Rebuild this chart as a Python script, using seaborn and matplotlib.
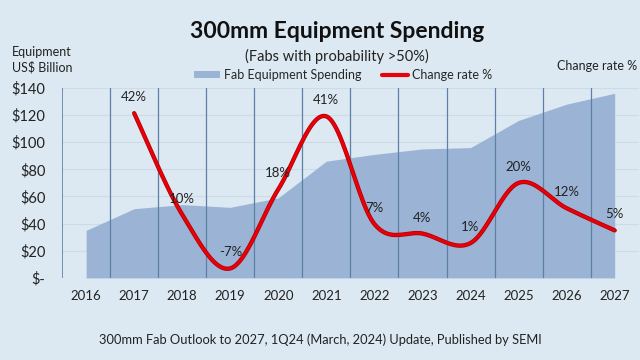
import numpy as np
import pandas as pd
import matplotlib
matplotlib.use("Agg")
import matplotlib.pyplot as plt
from matplotlib.patches import Patch
from matplotlib.lines import Line2D
import seaborn as sns

years = ["2016", "2017", "2018", "2019", "2020", "2021",
         "2022", "2023", "2024", "2025", "2026", "2027"]
spending = [35, 51, 54, 52, 59, 86, 91, 95, 96, 116, 128, 136]
change_years = years[1:]
change_pct = [42, 10, -7, 18, 41, 7, 4, 1, 20, 12, 5]
y_ticks = [0, 20, 40, 60, 80, 100, 120, 140]
y_labels = ["$-", "$20", "$40", "$60", "$80", "$100", "$120", "$140"]

BG = "#dce9f2"
AREA = "#9bb4d6"
VLINE = "#5e80a6"
RED = "#e8000b"


def catmull_rom(xs, ys, steps=24):
    # smooth line like the spreadsheet "smoothed line" option
    xs = np.asarray(xs, float)
    ys = np.asarray(ys, float)
    px = np.concatenate([[xs[0]], xs, [xs[-1]]])
    py = np.concatenate([[ys[0]], ys, [ys[-1]]])
    out_x, out_y = [], []
    for i in range(1, len(px) - 2):
        t = np.linspace(0, 1, steps, endpoint=False)
        for p, out in ((px, out_x), (py, out_y)):
            p0, p1, p2, p3 = p[i - 1], p[i], p[i + 1], p[i + 2]
            out.extend(0.5 * ((2 * p1) + (-p0 + p2) * t
                              + (2 * p0 - 5 * p1 + 4 * p2 - p3) * t ** 2
                              + (-p0 + 3 * p1 - 3 * p2 + p3) * t ** 3))
    out_x.append(xs[-1])
    out_y.append(ys[-1])
    return np.array(out_x), np.array(out_y)


sns.set_style("white")
plt.rcParams["font.family"] = ["Lato", "DejaVu Sans"]

fig = plt.figure(figsize=(6.4, 3.6), dpi=100, facecolor=BG)
ax = fig.add_axes([0.097, 0.228, 0.901, 0.528])
ax.set_facecolor(BG)

x_idx = np.arange(len(years))
ax.fill_between(x_idx, spending, 0, color=AREA, linewidth=0, zorder=2)

ax.set_xlim(-0.5, len(years) - 0.5)
ax.set_ylim(0, 140)
ax.set_yticks(y_ticks)
ax.set_yticklabels(y_labels, fontsize=10.5)
ax.set_xticks(x_idx)
ax.set_xticklabels(years, fontsize=9.5)
ax.tick_params(axis="both", length=0, pad=12, colors="#222222")
ax.tick_params(axis="x", pad=9)
for yv in y_ticks[1:]:
    ax.axhline(yv, color="#cbdce8", lw=0.8, zorder=1)
for xv in x_idx[:-1] + 0.5:
    ax.axvline(xv, color=VLINE, lw=0.9, zorder=3)
for s in ax.spines.values():
    s.set_visible(False)
ax.axvline(-0.5, color=VLINE, lw=1.2, zorder=3)

ax2 = ax.twinx()
ax2.set_ylim(-10, 50)
ax2.set_yticks([])
for s in ax2.spines.values():
    s.set_visible(False)

cx = [years.index(y) for y in change_years]
sx, sy = catmull_rom(cx, change_pct)
curve = pd.DataFrame({"x": sx, "y": sy})
sns.lineplot(data=curve, x="x", y="y", ax=ax2, color="#b00000",
             lw=3.1, sort=False, zorder=4)
sns.lineplot(data=curve, x="x", y="y", ax=ax2, color=RED,
             lw=2.0, sort=False, zorder=5)
ax2.set_xlabel("")
ax2.set_ylabel("")
ax2.set_xlim(-0.5, len(years) - 0.5)
for xi, v in zip(cx, change_pct):
    ax2.annotate(f"{v}%", (xi, v), xytext=(0, 11.5), textcoords="offset points",
                 ha="center", va="center", fontsize=9.5, color="#222222", zorder=6)

fig.text(0.527, 0.912, "300mm Equipment Spending", ha="center", va="center",
         fontsize=16.5, fontweight="bold", color="#111111")
fig.text(0.527, 0.842, "(Fabs with probability >50%)", ha="center", va="center",
         fontsize=10.5, color="#222222")
fig.text(0.018, 0.833, "Equipment\nUS$ Billion", ha="left", va="center",
         fontsize=9, color="#222222", linespacing=1.3)
fig.text(0.996, 0.818, "Change rate %", ha="right", va="center",
         fontsize=9, color="#222222")
fig.text(0.5, 0.055, "300mm Fab Outlook to 2027, 1Q24 (March, 2024) Update, Published by SEMI",
         ha="center", va="center", fontsize=9.3, color="#222222")

handles = [Patch(facecolor=AREA, edgecolor="none"),
           Line2D([0], [0], color=RED, lw=3)]
fig.legend(handles, ["Fab Equipment Spending", "Change rate %"],
           loc="center", bbox_to_anchor=(0.536, 0.793), ncol=2, frameon=False,
           fontsize=9, handlelength=2.1, handleheight=0.5, columnspacing=1.6,
           handletextpad=0.3, borderpad=0)

fig.savefig("out.png", dpi=100, facecolor=BG)
